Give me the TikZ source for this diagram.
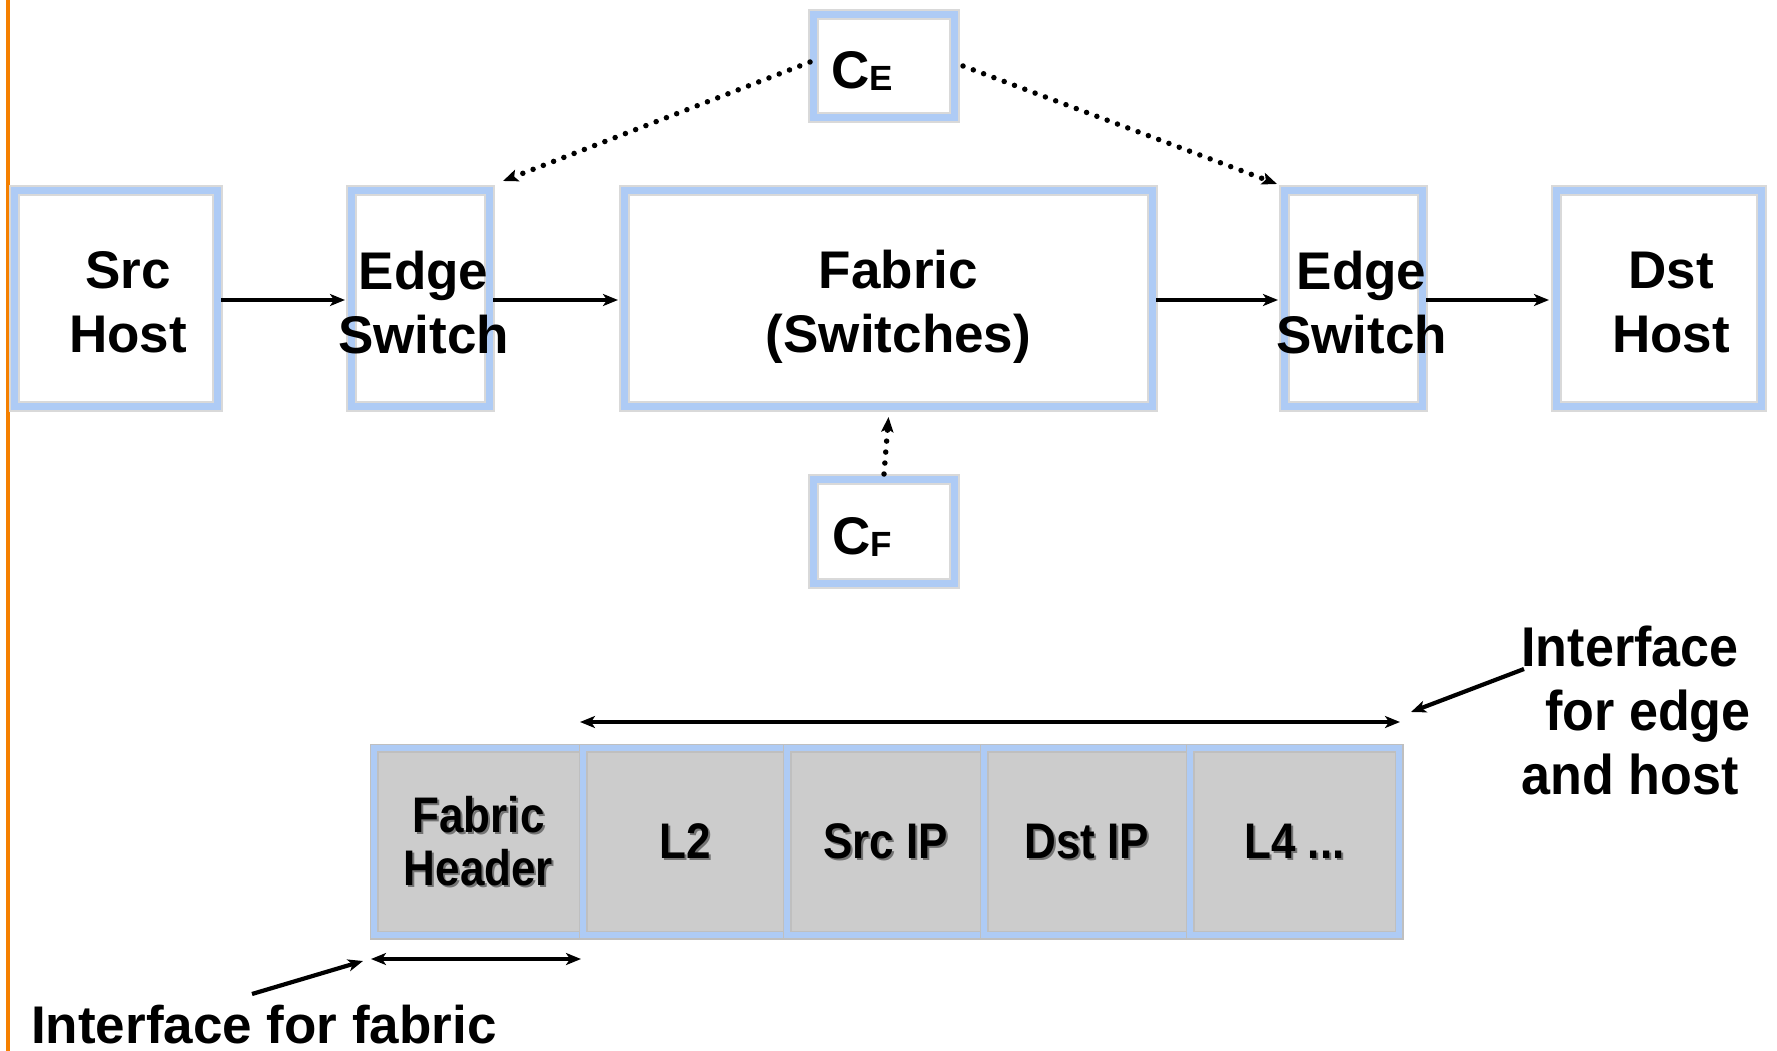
\documentclass[tikz,border=0pt]{standalone}
\usepackage{fontspec}
\setmainfont{Liberation Sans}
\newfontfamily\narrowfont[FakeStretch=0.88]{Liberation Sans}
\newfontfamily\ifont[FakeStretch=0.93]{Liberation Sans}
\usetikzlibrary{arrows.meta,calc}
\definecolor{boxblue}{RGB}{174,203,245}
\definecolor{cellgray}{RGB}{204,204,204}
\definecolor{edgeorange}{RGB}{245,128,0}
\begin{document}
\begin{tikzpicture}[x=1pt,y=-1pt,
  box/.style={fill=white, draw=black!15, line width=11pt, inner sep=0pt, outer sep=3.5pt,
     postaction={draw=boxblue, line width=7pt},
     font=\bfseries\fontsize{53}{64}\selectfont, align=center},
  boxtext/.style={font=\bfseries\fontsize{53}{64}\selectfont, align=center, inner sep=0pt},
  cell/.style={fill=cellgray, draw=black!25, line width=9pt, inner sep=0pt, outer sep=3pt,
     postaction={draw=boxblue, line width=6pt}, minimum height=187pt},
  pl/.style={font=\narrowfont\bfseries\fontsize{50}{53}\selectfont, align=center, inner sep=0pt},
  pls/.style={pl, text=black!55},
  arr/.style={-{Stealth[length=15pt,width=12pt,inset=4pt]}, line width=4.2pt},
  darr/.style={{Stealth[length=15pt,width=12pt,inset=4pt]}-{Stealth[length=15pt,width=12pt,inset=4pt]}, line width=4.2pt},
  dotarr/.style={line width=5.5pt, line cap=round, dash pattern=on 0pt off 11pt,
     -{Stealth[length=15pt,width=12pt,inset=3pt]}}
]
\useasboundingbox (0,0) rectangle (1777,1051);
% orange rule at left
\draw[edgeorange, line width=4.5pt] (8,0) -- (8,1051);

% top row
\node[box, minimum width=203pt, minimum height=216pt] (src) at (116,298.5) {};
\node[box, minimum width=138pt, minimum height=216pt] (edge1) at (420.5,298.5) {};
\node[box, minimum width=528pt, minimum height=216pt] (fabric) at (888.5,298.5) {};
\node[box, minimum width=138pt, minimum height=216pt] (edge2) at (1353.5,298.5) {};
\node[box, minimum width=205pt, minimum height=216pt] (dst) at (1659,298.5) {};

\node[boxtext] (srct) at ($(src)+(12,4)$) {Src\\Host};
\node[boxtext] (edge1t) at ($(edge1)+(3,4)$) {Edge\\Switch};
\node[boxtext] (fabrict) at ($(fabric)+(10,8)$) {Fabric\\(Switches)};
\node[boxtext] (edge2t) at ($(edge2)+(8,4)$) {Edge\\Switch};
\node[boxtext] (dstt) at ($(dst)+(12,4)$) {Dst\\Host};

% controllers
\node[box, minimum width=141pt, minimum height=103pt] (ce) at (884,66) {};
\node[boxtext] (cet) at ($(ce)+(-22,5)$) {C\raisebox{-2pt}{\fontsize{35}{35}\selectfont E}};
\node[box, minimum width=141pt, minimum height=104pt] (cf) at (884,531.5) {};
\node[boxtext] (cft) at ($(cf)+(-22,5)$) {C\raisebox{-2pt}{\fontsize{35}{35}\selectfont F}};

% data path arrows
\draw[arr, shorten >=3pt] (src.east |- 0,300) -- (edge1.west |- 0,300);
\draw[arr, shorten >=3pt] (edge1.east |- 0,300) -- (fabric.west |- 0,300);
\draw[arr, shorten >=3pt] (fabric.east |- 0,300) -- (edge2.west |- 0,300);
\draw[arr, shorten >=4pt] (edge2.east |- 0,300) -- (dst.west |- 0,300);

% control arrows
\draw[dotarr] ($(ce.west)+(0,-4)$) -- ($(edge1.north east)+(10,-6)$);
\draw[dotarr] ($(ce.east)+(5,0)$) -- ($(edge2.north west)+(-4,-3)$);
\draw[dotarr] ($(cf.north)+(0,-2)$) -- ($(fabric.south)+(0,7)$);

% packet cells
\node[cell, minimum width=209pt] (c1) at (478.5,841.5) {};
\node[cell, minimum width=204pt] (c2) at (685,841.5) {};
\node[cell, minimum width=197pt] (c3) at (885.5,841.5) {};
\node[cell, minimum width=206pt] (c4) at (1087,841.5) {};
\node[cell, minimum width=209pt] (c5) at (1294.5,841.5) {};

\node[pls] (s1) at ($(c1)+(2,2)$) {Fabric\\Header};
\node[pls] (s2) at ($(c2)+(2,2)$) {L2};
\node[pls] (s3) at ($(c3)+(2,2)$) {Src IP};
\node[pls] (s4) at ($(c4)+(2,2)$) {Dst IP};
\node[pls] (s5) at ($(c5)+(2,2)$) {L4 ...};
\node[pl] (t1) at (c1) {Fabric\\Header};
\node[pl] (t2) at (c2) {L2};
\node[pl] (t3) at (c3) {Src IP};
\node[pl] (t4) at (c4) {Dst IP};
\node[pl] (t5) at (c5) {L4 ...};

% extent arrows
\draw[darr] ($(c2.north west)+(0,-23)$) -- ($(c5.north east)+(-2,-23)$);
\draw[darr] ($(c1.south west)+(0,21)$) -- ($(c1.south east)+(-5,21)$);

% interface labels
\node[font=\ifont\bfseries\fontsize{56}{64}\selectfont, align=center, inner sep=0pt] (iedge)
  at (1630,710) {Interface\\\hspace*{36pt}for edge\\and host};
\node[font=\bfseries\fontsize{53}{64}\selectfont, anchor=base west, inner sep=0pt] (ifab)
  at (31,1043) {Interface for fabric};

\coordinate (ies) at (1524,669);
\coordinate (iet) at ($(c5.north east)+(9,-33)$);
\draw[arr] (ies) -- (iet);
\coordinate (ifs) at (252,994);
\coordinate (ift) at ($(c1.south west)+(-8,23)$);
\draw[arr] (ifs) -- (ift);
\end{tikzpicture}
\end{document}
